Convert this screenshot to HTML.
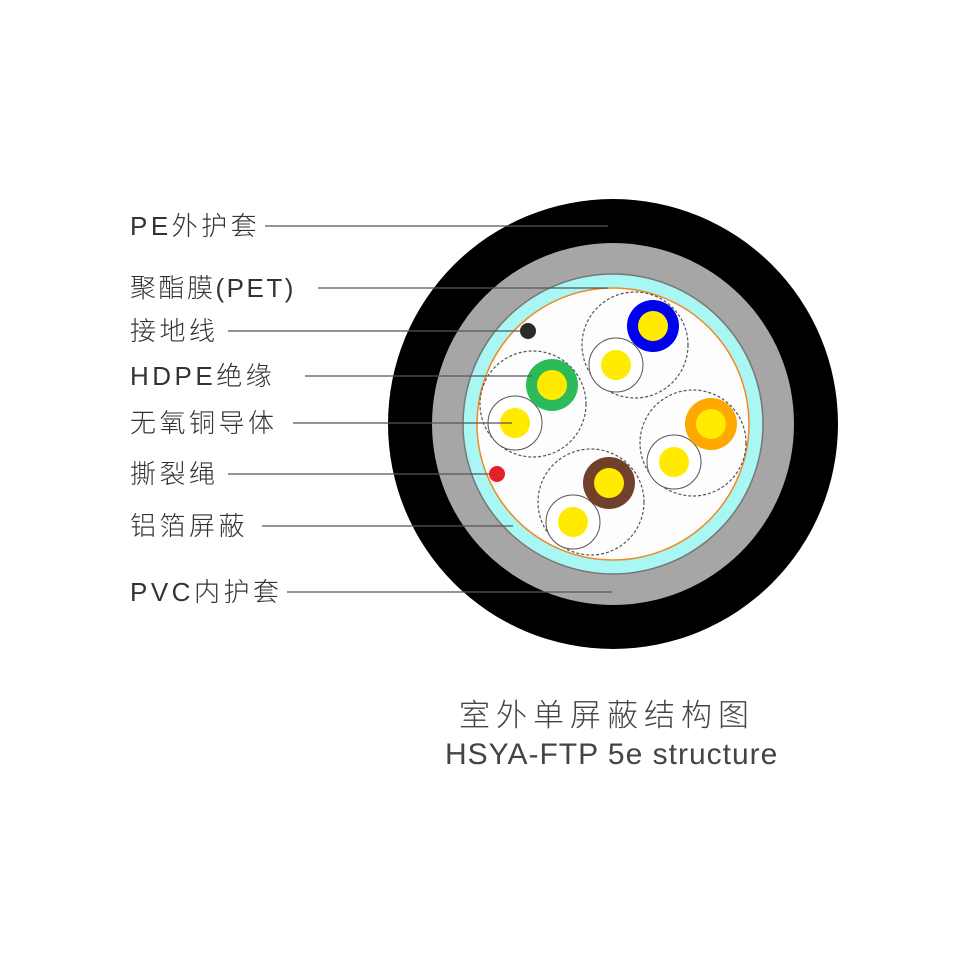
<!DOCTYPE html>
<html><head><meta charset="utf-8"><style>
html,body{margin:0;padding:0;background:#fff;}
body{width:969px;height:969px;position:relative;overflow:hidden;}
.l{position:absolute;left:130px;font-family:"Liberation Sans","Noto Sans CJK SC",sans-serif;font-weight:300;font-size:26px;color:#333;line-height:30px;letter-spacing:3.5px;white-space:nowrap;}
.t{position:absolute;font-family:"Liberation Sans","Noto Sans CJK SC",sans-serif;color:#444;white-space:nowrap;}
</style></head><body>
<svg width="969" height="969" style="position:absolute;left:0;top:0">
<circle cx="613" cy="424" r="225" fill="#000"/>
<circle cx="613" cy="424" r="181" fill="#a6a6a6"/>
<circle cx="613" cy="424" r="150" fill="#a8f7f5" stroke="#777" stroke-width="1.5"/>
<circle cx="613" cy="424" r="136" fill="#fdfdfd" stroke="#f08a24" stroke-width="1.5"/>
<g fill="none" stroke="#555" stroke-width="1.2" stroke-dasharray="3,2">
<circle cx="635" cy="345" r="53"/><circle cx="533" cy="404" r="53"/>
<circle cx="693" cy="443" r="53"/><circle cx="591" cy="502" r="53"/>
</g>
<g fill="#fff" stroke="#555" stroke-width="1">
<circle cx="616" cy="365" r="27"/><circle cx="515" cy="423" r="27"/>
<circle cx="674" cy="462" r="27"/><circle cx="573" cy="522" r="27"/>
</g>
<circle cx="653" cy="326" r="26" fill="#0000f0"/>
<circle cx="552" cy="385" r="26" fill="#2dbb5a"/>
<circle cx="711" cy="424" r="26" fill="#ffa800"/>
<circle cx="609" cy="483" r="26" fill="#70402a"/>
<g fill="#ffea00">
<circle cx="653" cy="326" r="15"/><circle cx="552" cy="385" r="15"/><circle cx="711" cy="424" r="15"/><circle cx="609" cy="483" r="15"/>
<circle cx="616" cy="365" r="15"/><circle cx="515" cy="423" r="15"/><circle cx="674" cy="462" r="15"/><circle cx="573" cy="522" r="15"/>
</g>
<circle cx="528" cy="331" r="8" fill="#2a2a2a"/>
<circle cx="497" cy="474" r="8" fill="#e32028"/>
<g stroke="#555" stroke-width="1.3">
<line x1="265" y1="226" x2="608" y2="226"/>
<line x1="318" y1="288" x2="608" y2="288"/>
<line x1="228" y1="331" x2="520" y2="331"/>
<line x1="305" y1="376" x2="532" y2="376"/>
<line x1="293" y1="423" x2="512" y2="423"/>
<line x1="228" y1="474" x2="490" y2="474"/>
<line x1="262" y1="526" x2="513" y2="526"/>
<line x1="287" y1="592" x2="612" y2="592"/>
</g>
</svg>
<div class="l" style="top:211px">PE外护套</div>
<div class="l" style="top:273px;letter-spacing:2.5px">聚酯膜(PET)</div>
<div class="l" style="top:316px">接地线</div>
<div class="l" style="top:361px">HDPE绝缘</div>
<div class="l" style="top:408px">无氧铜导体</div>
<div class="l" style="top:459px">撕裂绳</div>
<div class="l" style="top:511px">铝箔屏蔽</div>
<div class="l" style="top:577px">PVC内护套</div>
<div class="t" style="left:459px;top:690px;font-size:31px;letter-spacing:6px;font-weight:300">室外单屏蔽结构图</div>
<div class="t" style="left:445px;top:738px;font-size:30px;letter-spacing:1px;">HSYA-FTP 5e structure</div>
</body></html>
